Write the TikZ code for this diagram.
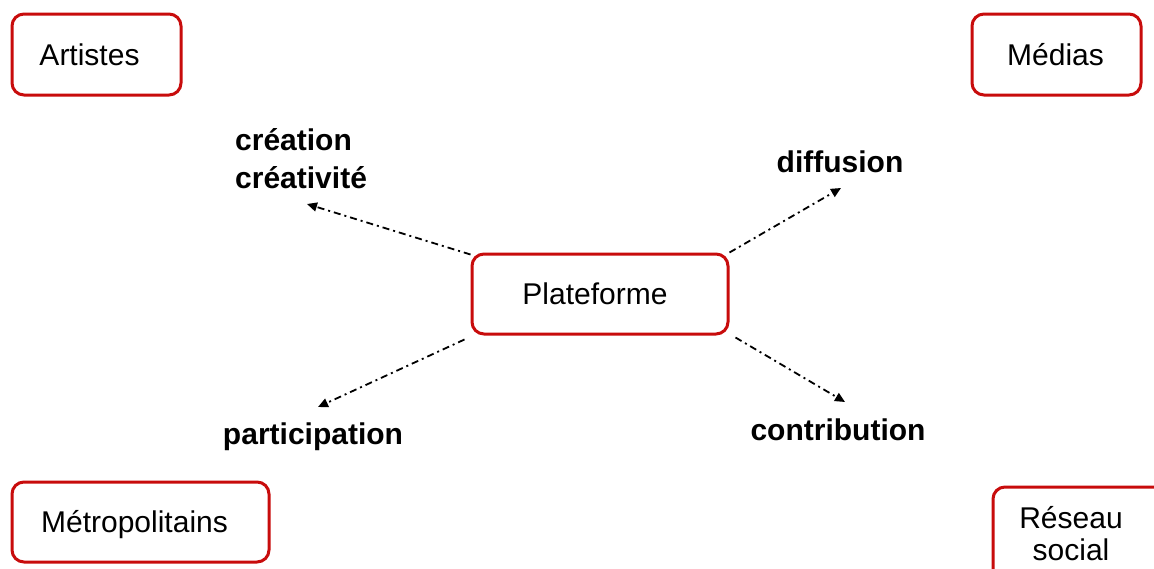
\documentclass[tikz,border=0pt]{standalone}
\usepackage{fontspec}
\setmainfont{Liberation Sans}
\usetikzlibrary{arrows.meta}
\definecolor{boxred}{RGB}{200,12,12}
\tikzset{
  box/.style={draw=boxred, line width=3pt, rounded corners=12pt, fill=white,
    inner sep=0pt, font=\fontsize{30}{34}\selectfont, text height=21pt, text depth=0pt},
  lbl/.style={font=\fontsize{30}{38}\selectfont\bfseries, inner sep=0pt},
  conn/.style={line width=1.8pt, dash pattern=on 7pt off 4pt on 2pt off 4pt,
    -{Triangle[length=10pt,width=9pt]}}
}
\begin{document}
\begin{tikzpicture}[x=1pt,y=-1pt]
\useasboundingbox (0,0) rectangle (1154,568);
\clip (0,0) rectangle (1154,568);
\fill[white] (0,0) rectangle (1154,568);
% boxes
\node[box, minimum width=169pt, minimum height=81pt] (art) at (96.5,54.5) {Artistes\hspace*{14pt}};
\node[box, minimum width=169pt, minimum height=81pt] (med) at (1056.5,54.5) {Médias\hspace*{2pt}};
\node[box, minimum width=256pt, minimum height=80pt] (plat) at (600,294) {Plateforme\hspace*{10pt}};
\node[box, minimum width=257pt, minimum height=80pt] (met) at (140.5,522) {Métropolitains\hspace*{12pt}};
\node[box, minimum width=172pt, minimum height=94pt,
  text height=, text depth=, font=\fontsize{30}{32}\selectfont] (res) at (1079,534)
  {\raisebox{-4pt}[\height][\depth]{\begin{tabular}{@{}c@{}}Réseau\\social\end{tabular}}\hspace*{16pt}};
% labels
\node[lbl, anchor=west, align=left] (cre) at (235,159) {création\\créativité};
\node[lbl, anchor=base] (dif) at (840,172) {diffusion};
\node[lbl, anchor=base] (par) at (313,444) {participation};
\node[lbl, anchor=base] (con) at (838,440) {contribution};
% arrow ends
\coordinate (e1) at (307,204);
\coordinate (e2) at (841,188);
\coordinate (e3) at (318,407);
\coordinate (e4) at (845,402);
% connectors
\draw[conn] ([yshift=-2pt]plat.north west) -- (e1);
\draw[conn] (plat.north east) -- (e2);
\draw[conn] ([xshift=-6pt,yshift=-4pt]plat.south west) -- (e3);
\draw[conn] ([xshift=6pt,yshift=-2pt]plat.south east) -- (e4);
\end{tikzpicture}
\end{document}
